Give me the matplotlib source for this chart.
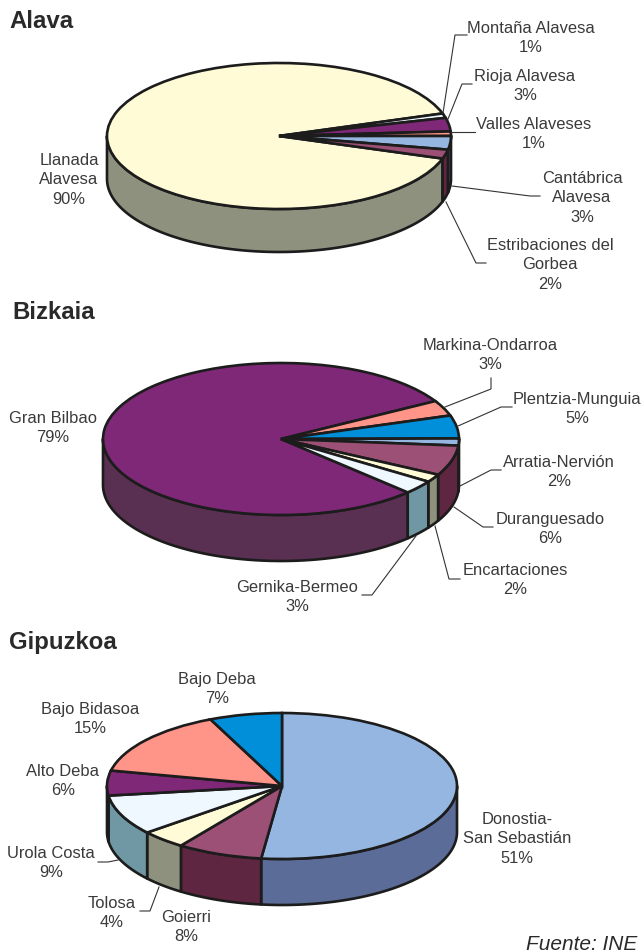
import numpy as np
import matplotlib
matplotlib.use("Agg")
import matplotlib.pyplot as plt

plt.rcParams['font.family'] = ['Liberation Sans', 'DejaVu Sans']

W, H = 641, 953

CREAM = '#FFFBD6'
WHITE = '#EFF7FF'
PURPLE = '#802878'
SALMON = '#FF9488'
LBLUE = '#94B6E0'
BLUE = '#008FD8'
MAUVE = '#9C5076'
SIDE = {CREAM: '#8F917F', WHITE: '#7098A4', PURPLE: '#5A3052', SALMON: '#A06058',
        LBLUE: '#5C6C98', BLUE: '#005C90', MAUVE: '#5E2640'}
EDGE = '#1c1c1c'
TEXT = '#3a3a3a'

# slice shares as measured on the pies, clockwise from the start angle
alava_vals = [90, 1, 3, 1, 3, 2]
alava_cols = [CREAM, WHITE, PURPLE, SALMON, LBLUE, MAUVE]
alava_labels = ["Llanada\nAlavesa\n90%", "Montaña Alavesa\n1%", "Rioja Alavesa\n3%",
                "Valles Alaveses\n1%", "Cantábrica\nAlavesa\n3%",
                "Estribaciones del\nGorbea\n2%"]
alava_label_pos = [(69, 180), (531, 38), (525, 86), (534, 134), (582, 198), (550, 265)]

bizkaia_vals = [79.3, 3.3, 4.9, 1.5, 6.4, 1.7, 2.9]
bizkaia_cols = [PURPLE, SALMON, BLUE, LBLUE, MAUVE, CREAM, WHITE]
bizkaia_labels = ["Gran Bilbao\n79%", "Markina-Ondarroa\n3%", "Plentzia-Munguia\n5%",
                  "Arratia-Nervión\n2%", "Duranguesado\n6%", "Encartaciones\n2%",
                  "Gernika-Bermeo\n3%"]
bizkaia_label_pos = [(53, 428), (490, 355), (577, 409), (559, 472), (550, 529),
                     (515, 580), (297, 597)]

gipuzkoa_vals = [51.9, 7.9, 4.2, 8.9, 5.5, 14.9, 6.7]
gipuzkoa_cols = [LBLUE, MAUVE, CREAM, WHITE, PURPLE, SALMON, BLUE]
gipuzkoa_labels = ["Donostia-\nSan Sebastián\n51%", "Goierri\n8%", "Tolosa\n4%",
                   "Urola Costa\n9%", "Alto Deba\n6%", "Bajo Bidasoa\n15%", "Bajo Deba\n7%"]
gipuzkoa_label_pos = [(517, 839), (186, 927), (112, 913), (51, 863), (63, 781),
                      (90, 719), (217, 689)]

# leader lines, in picture pixels
leaders = [
    [(443, 114), (455, 36), (467, 36)],
    [(448, 120), (462, 85), (472, 85)],
    [(451, 133), (475, 133)],
    [(452, 187), (530, 197), (540, 197)],
    [(446, 203), (476, 264), (486, 264)],
    [(445, 408), (491, 390), (491, 379)],
    [(458, 427), (501, 408), (512, 408)],
    [(460, 487), (491, 471), (501, 471)],
    [(454, 508), (483, 528), (493, 528)],
    [(435, 527), (449, 580), (460, 580)],
    [(416, 537), (372, 596), (362, 596)],
    [(118, 861), (108, 863), (98, 863)],
    [(159, 888), (150, 912), (140, 912)],
]

fig = plt.figure(figsize=(W / 100, H / 100), dpi=100)


def pie3d(vals, cols, start, cx, cy, rx, ry, depth):
    ax = fig.add_axes([(cx - rx) / W, (H - cy - ry - depth) / H, 2 * rx / W, (2 * ry + depth) / H])
    d = depth / ry
    # side walls, only the part of each slice facing the viewer
    edges = start - np.cumsum([0] + list(vals)) / sum(vals) * 360
    for k, col in enumerate(cols):
        hi, lo = edges[k], edges[k + 1]
        # walk round the lower half of the ellipse in each turn it can fall on
        for shift in (0, 360, -360, 720):
            a = max(lo + shift, 180)
            b = min(hi + shift, 360)
            if b <= a:
                continue
            t = np.radians(np.linspace(a, b, 80))
            xs = np.r_[np.cos(t), np.cos(t[::-1])]
            ys = np.r_[np.sin(t), np.sin(t[::-1]) - d]
            ax.fill(xs, ys, facecolor=SIDE[col], edgecolor=EDGE, linewidth=1.9, joinstyle='round')
    ax.pie(vals, colors=cols, startangle=start, counterclock=False, radius=1,
           wedgeprops=dict(edgecolor=EDGE, linewidth=1.9))
    ax.set_aspect('auto')
    ax.set_xlim(-1, 1)
    ax.set_ylim(-1 - d, 1)
    ax.axis('off')
    for p in ax.patches:
        p.set_clip_on(False)


pie3d(alava_vals, alava_cols, -18, 279, 137, 172, 73, 43)
pie3d(bizkaia_vals, bizkaia_cols, -44.6, 281, 440, 178, 76, 46)
pie3d(gipuzkoa_vals, gipuzkoa_cols, 90, 282, 787, 175, 73, 46)

# overlay in pixels for labels and leaders
ov = fig.add_axes([0, 0, 1, 1])
ov.set_xlim(0, W)
ov.set_ylim(H, 0)
ov.axis('off')
ov.patch.set_alpha(0)

for pts in leaders:
    ov.plot([p[0] for p in pts], [p[1] for p in pts], color='#333333', lw=0.8)

for labels, pos in [(alava_labels, alava_label_pos), (bizkaia_labels, bizkaia_label_pos),
                    (gipuzkoa_labels, gipuzkoa_label_pos)]:
    for lab, (x, y) in zip(labels, pos):
        ov.text(x, y, lab, ha='center', va='center', multialignment='center',
                fontsize=11.85, color=TEXT, linespacing=1.39)

ov.text(9, 21, "Alava", fontsize=17.3, fontweight='bold', color='#2a2a2a', va='center')
ov.text(12, 313, "Bizkaia", fontsize=17.3, fontweight='bold', color='#2a2a2a', va='center')
ov.text(9, 643, "Gipuzkoa", fontsize=17.3, fontweight='bold', color='#2a2a2a', va='center')
ov.text(637, 945, "Fuente: INE", fontsize=15, style='italic', color='#2a2a2a', ha='right', va='center')

fig.savefig("out.png", dpi=100)
